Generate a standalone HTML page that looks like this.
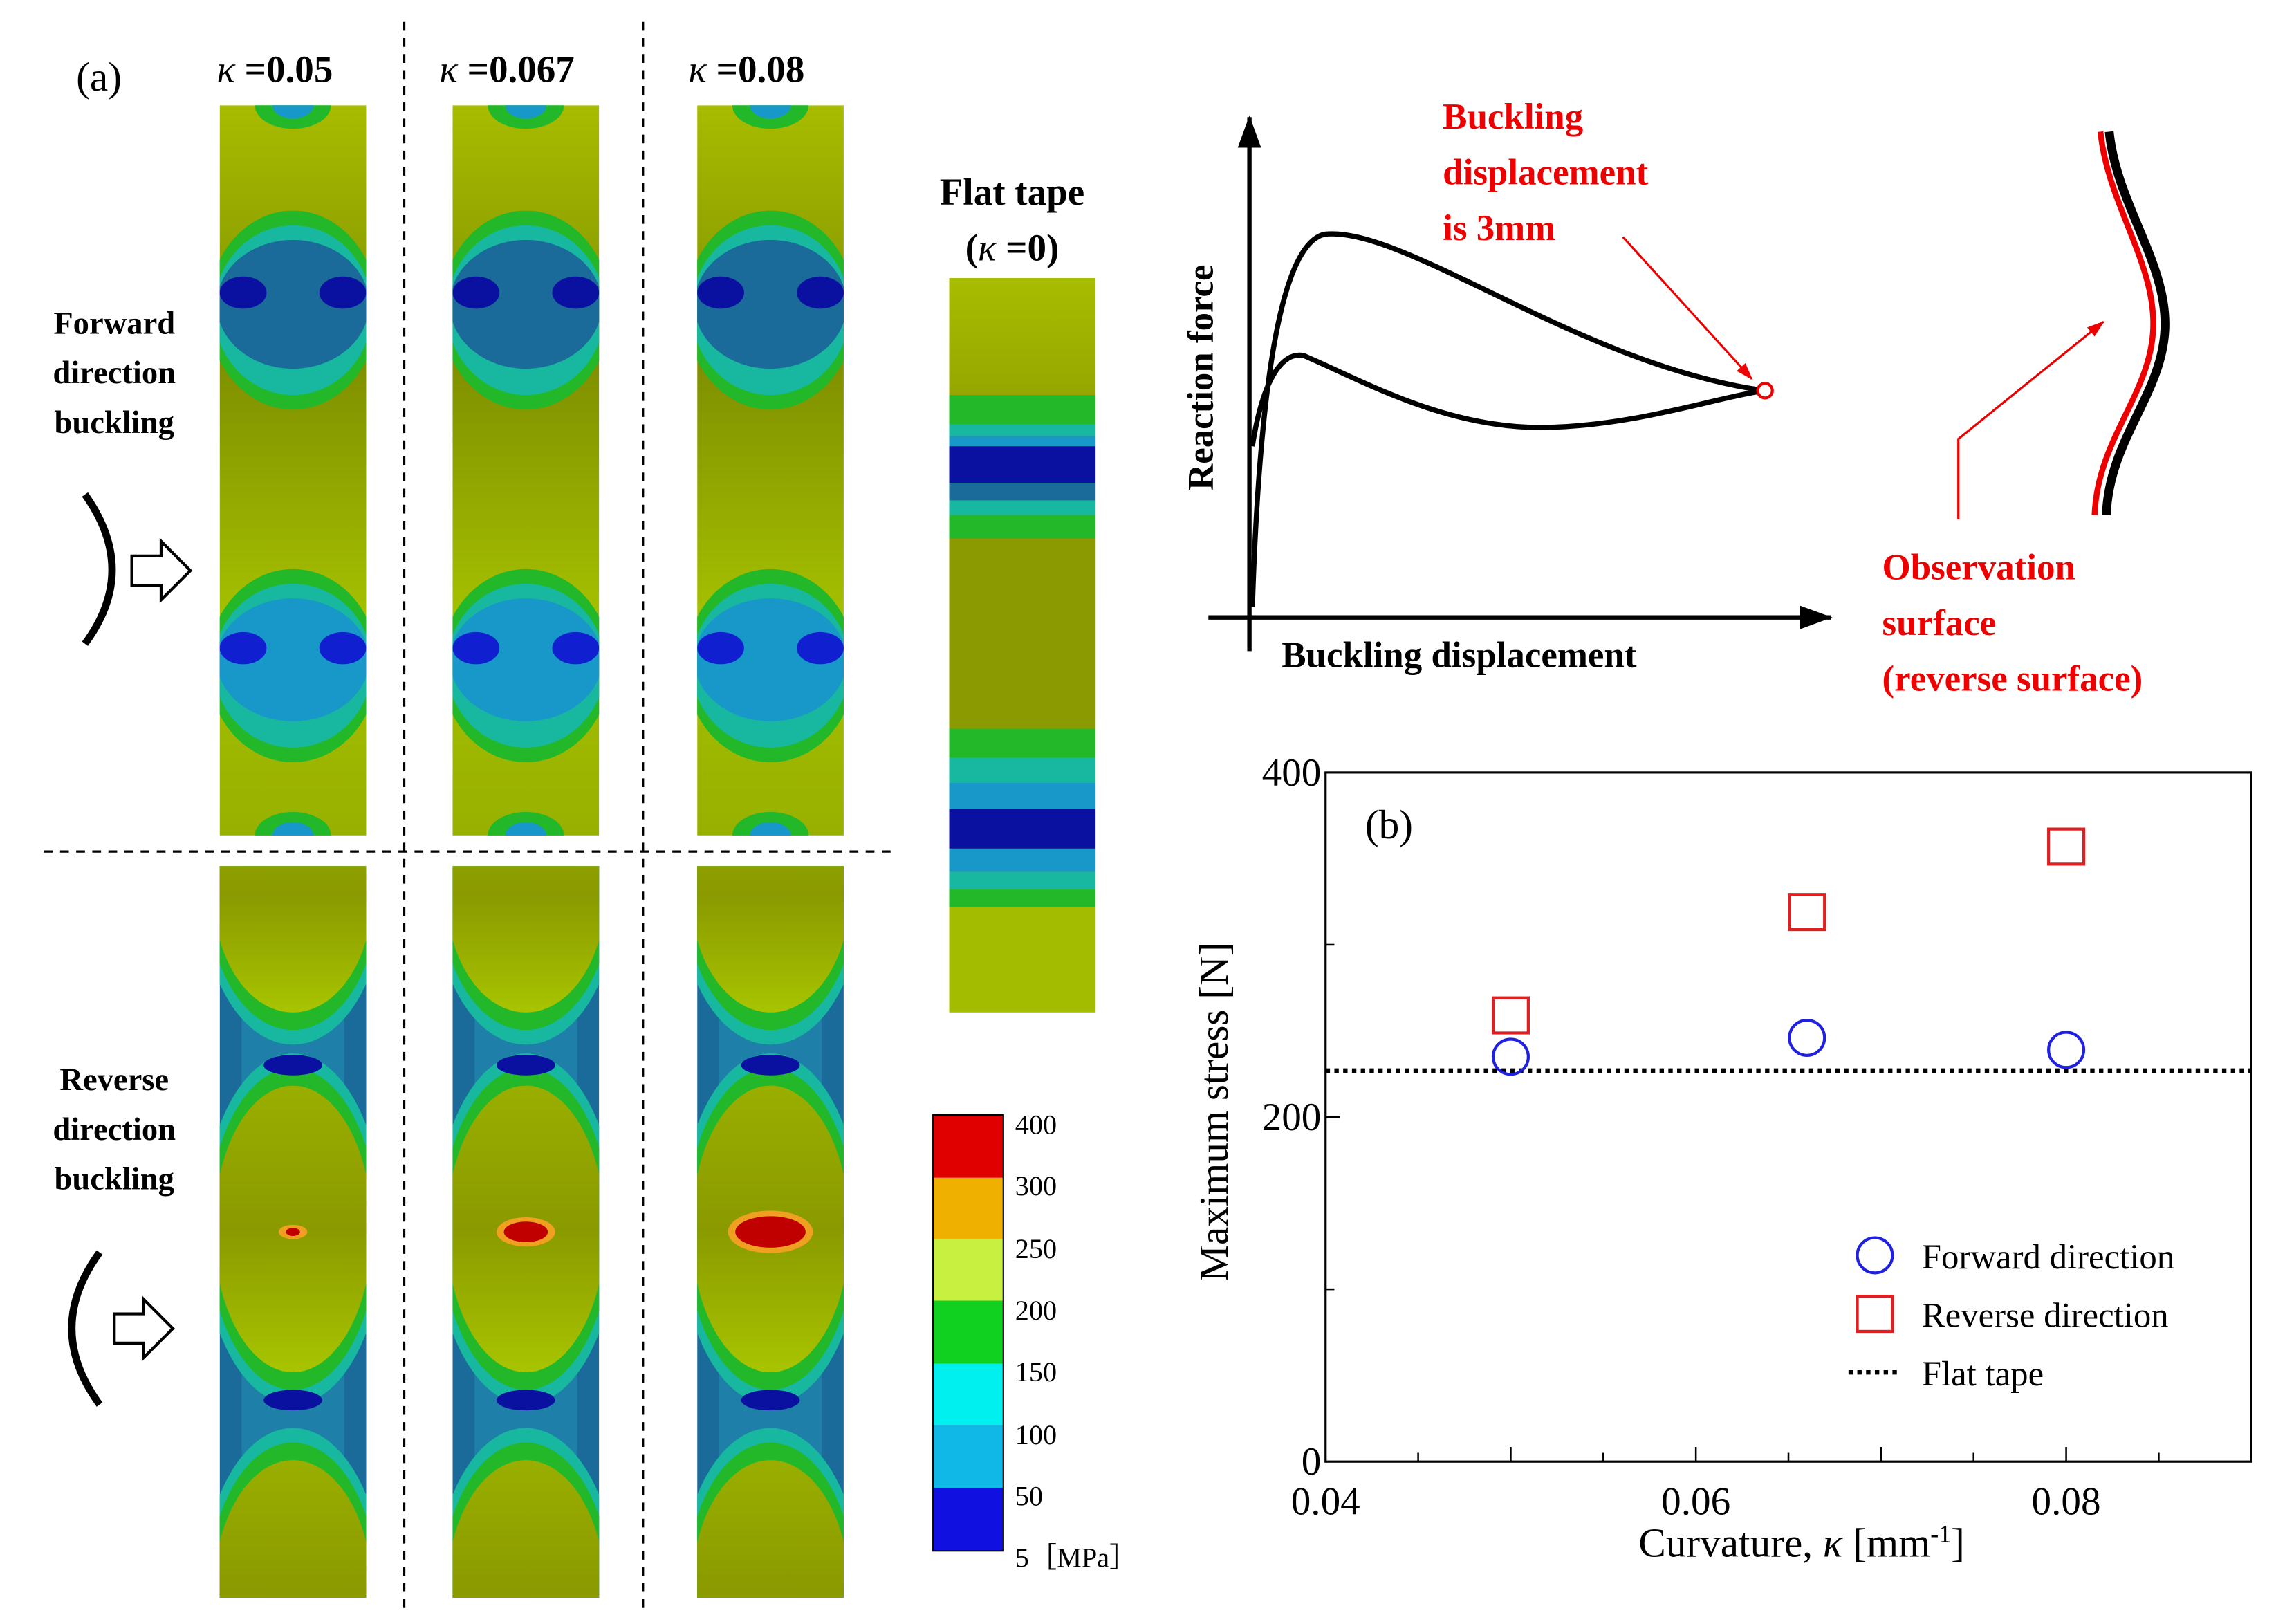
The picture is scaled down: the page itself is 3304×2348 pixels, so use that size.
<!DOCTYPE html>
<html><head><meta charset="utf-8"><style>
html,body{margin:0;padding:0;background:#fff;width:3304px;height:2348px;overflow:hidden}
svg{display:block;position:absolute;left:0;top:0}
text{font-family:"Liberation Serif",serif}
.b{font-weight:bold}
</style></head><body>
<svg id="fig" width="3304" height="2348" viewBox="0 0 1560 1110" preserveAspectRatio="none" xmlns="http://www.w3.org/2000/svg">
<defs>
<linearGradient id="olive" x1="0" y1="0" x2="0" y2="1">
<stop offset="0" stop-color="#a8bc00"/><stop offset="0.35" stop-color="#7f8f00"/><stop offset="0.7" stop-color="#a5c000"/><stop offset="1" stop-color="#98b000"/></linearGradient>
<linearGradient id="olive2" x1="0" y1="0" x2="0" y2="1">
<stop offset="0" stop-color="#9aae00"/><stop offset="0.5" stop-color="#8a9a00"/><stop offset="1" stop-color="#a8c400"/></linearGradient>
<clipPath id="c1"><rect x="150" y="72" width="100" height="499"/></clipPath>
<clipPath id="c2"><rect x="309" y="72" width="100" height="499"/></clipPath>
<clipPath id="c3"><rect x="476" y="72" width="100" height="499"/></clipPath>
<clipPath id="r1"><rect x="150" y="592" width="100" height="500"/></clipPath>
<clipPath id="r2"><rect x="309" y="592" width="100" height="500"/></clipPath>
<clipPath id="r3"><rect x="476" y="592" width="100" height="500"/></clipPath>
<clipPath id="cf"><rect x="648" y="190" width="100" height="502"/></clipPath>
<marker id="ah" markerUnits="userSpaceOnUse" markerWidth="22" markerHeight="20" refX="21" refY="10" orient="auto"><path d="M0,2 L22,10 L0,18 z" fill="#000"/></marker>
<marker id="ahr" markerUnits="userSpaceOnUse" markerWidth="12" markerHeight="10" refX="11" refY="5" orient="auto"><path d="M0,1 L12,5 L0,9 z" fill="#e00"/></marker>
</defs>

<text x="52" y="62" font-size="28">(a)</text>
<text class="b" x="148" y="56" font-size="26"><tspan font-style="italic" font-weight="normal">κ</tspan> =0.05</text>
<text class="b" x="300" y="56" font-size="26"><tspan font-style="italic" font-weight="normal">κ</tspan> =0.067</text>
<text class="b" x="470" y="56" font-size="26"><tspan font-style="italic" font-weight="normal">κ</tspan> =0.08</text>
<text class="b" x="691" y="140" font-size="26" text-anchor="middle">Flat tape</text>
<text class="b" x="691" y="178" font-size="26" text-anchor="middle">(<tspan font-style="italic" font-weight="normal">κ</tspan> =0)</text>

<g font-size="22" text-anchor="middle">
<text x="78" y="228" class="b">Forward</text><text x="78" y="262" class="b">direction</text><text x="78" y="296" class="b">buckling</text></g>
<g font-size="22" text-anchor="middle">
<text x="78" y="745" class="b">Reverse</text><text x="78" y="779" class="b">direction</text><text x="78" y="813" class="b">buckling</text></g>

<g>
<path d="M58,338 Q95,390 58,440" fill="none" stroke="#000" stroke-width="5"/>
<path d="M90,380 L110,380 L110,370 L130,390 L110,410 L110,400 L90,400 Z" fill="#fff" stroke="#000" stroke-width="2"/></g>
<g>
<path d="M68,856 Q30,908 68,960" fill="none" stroke="#000" stroke-width="5"/>
<path d="M78,898 L98,898 L98,888 L118,908 L98,928 L98,918 L78,918 Z" fill="#fff" stroke="#000" stroke-width="2"/></g>

<g id="strips"></g>

<g stroke="#000" stroke-width="1.5" stroke-dasharray="6,5">
<line x1="276" y1="15" x2="276" y2="1100"/><line x1="439" y1="15" x2="439" y2="1100"/>
<line x1="30" y1="582" x2="610" y2="582"/></g>

<g>
<rect x="637" y="762" width="48" height="43" fill="#e00000"/>
<rect x="637" y="805" width="48" height="42" fill="#f0b000"/>
<rect x="637" y="847" width="48" height="42" fill="#c8f040"/>
<rect x="637" y="889" width="48" height="43" fill="#10d020"/>
<rect x="637" y="932" width="48" height="42" fill="#00f0f0"/>
<rect x="637" y="974" width="48" height="43" fill="#10b8e8"/>
<rect x="637" y="1017" width="48" height="43" fill="#1010e0"/>
<rect x="637" y="762" width="48" height="298" fill="none" stroke="#000" stroke-width="1"/>
<g font-size="19"><text x="693" y="775">400</text><text x="693" y="817">300</text><text x="693" y="860">250</text><text x="693" y="902">200</text><text x="693" y="944">150</text><text x="693" y="987">100</text><text x="693" y="1029">50</text><text x="693" y="1071">5［MPa］</text></g>
</g>

<g>
<line x1="853" y1="445" x2="853" y2="80" stroke="#000" stroke-width="3" marker-end="url(#ah)"/>
<line x1="825" y1="422" x2="1250" y2="422" stroke="#000" stroke-width="3" marker-end="url(#ah)"/>
<path d="M855,415 C860,260 875,165 905,160 C960,155 1080,250 1205,267" fill="none" stroke="#000" stroke-width="3.5"/>
<path d="M855,305 C862,260 875,240 890,243 C930,260 990,295 1060,292 C1120,290 1170,272 1205,267" fill="none" stroke="#000" stroke-width="3.5"/>
<circle cx="1205" cy="267" r="5" fill="#fff" stroke="#e00" stroke-width="2"/>
<line x1="1108" y1="162" x2="1196" y2="259" stroke="#e00" stroke-width="1.5" marker-end="url(#ahr)"/>
<g fill="#e00" font-size="25"><text x="985" y="88" class="b">Buckling</text><text x="985" y="126" class="b">displacement</text><text x="985" y="164" class="b">is 3mm</text></g>
<text class="b" font-size="25" transform="translate(828,258) rotate(-90)" text-anchor="middle">Reaction force</text>
<text class="b" font-size="25" x="875" y="456">Buckling displacement</text>
<path d="M1440,90 C1445,140 1480,180 1478,225 C1476,270 1440,300 1438,352" fill="none" stroke="#000" stroke-width="6"/>
<path d="M1434,90 C1439,140 1472,180 1470,225 C1468,270 1432,300 1430,352" fill="none" stroke="#e00" stroke-width="4"/>
<polyline points="1337,355 1337,300 1436,220" fill="none" stroke="#e00" stroke-width="1.5" marker-end="url(#ahr)"/>
<g fill="#e00" font-size="25"><text x="1285" y="396" class="b">Observation</text><text x="1285" y="434" class="b">surface</text><text x="1285" y="472" class="b">(reverse surface)</text></g>
</g>

<g id="chart"></g>
</svg>
<script>
const ns="http://www.w3.org/2000/svg";
function mk(tag,attrs,parent){const e=document.createElementNS(ns,tag);for(const k in attrs)e.setAttribute(k,attrs[k]);parent.appendChild(e);return e;}

const curvature=[0.05,0.066,0.08];
const forwardStress=[235,246,239];
const reverseStress=[259,319,357];
const flatTapeStress=[227];
const xTicks=[0.04,0.06,0.08];
const xTickLabels=["0.04","0.06","0.08"];
const yTicks=[0,200,400];
const yTickLabels=["0","200","400"];

const X0=905,X1=1537,Y0=999,Y1=528;
const xs=v=>X0+(v-0.04)/(0.09-0.04)*(X1-X0);
const ys=v=>Y0-(v/400)*(Y0-Y1);
const g=document.getElementById('chart');
let frame=mk('rect',{x:X0,y:Y1,width:X1-X0,height:Y0-Y1,fill:'none',stroke:'#000','stroke-width':1.5},g);


for(let i=1;i<10;i++){const v=0.04+i*0.005;mk('line',{x1:xs(v),y1:Y0,x2:xs(v),y2:Y0-(i%2===0?10:6),stroke:'#000','stroke-width':1.2},g);}
for(let v=100;v<400;v+=100){mk('line',{x1:X0,y1:ys(v),x2:X0+(v%200===0?10:6),y2:ys(v),stroke:'#000','stroke-width':1.2},g);}
xTicks.forEach((v,i)=>{const t=mk('text',{x:xs(v),y:Y0+36,'font-size':27,'text-anchor':'middle'},g);t.textContent=xTickLabels[i];

});
yTicks.forEach((v,i)=>{const t=mk('text',{x:X0-3,y:ys(v)+9,'font-size':27,'text-anchor':'end'},g);t.textContent=yTickLabels[i];

});
let xl=mk('text',{x:1230,y:1064,'font-size':28,'text-anchor':'middle'},g);
xl.innerHTML='Curvature, <tspan font-style="italic">κ</tspan> [mm<tspan font-size="17" dy="-10">-1</tspan><tspan dy="10">]</tspan>';


let yl=mk('text',{transform:'translate(838,760) rotate(-90)','font-size':28,'text-anchor':'middle'},g);
yl.textContent='Maximum stress [N]';


let pb=mk('text',{x:932,y:573,'font-size':28},g);pb.textContent='(b)';


let fl=mk('line',{x1:X0,y1:ys(flatTapeStress[0]),x2:X1,y2:ys(flatTapeStress[0]),stroke:'#000','stroke-width':3,'stroke-dasharray':'3,3'},g);


curvature.forEach((c,i)=>{
 const r=mk('rect',{x:xs(c)-12,y:ys(reverseStress[i])-12,width:24,height:24,fill:'none',stroke:'#e02020','stroke-width':2},g);
 
 
 const ci=mk('circle',{cx:xs(c),cy:ys(forwardStress[i]),r:12,fill:'none',stroke:'#2020e0','stroke-width':2},g);
 
 
});
const lg=mk('g',{},g);


mk('circle',{cx:1280,cy:858,r:12,fill:'none',stroke:'#2020e0','stroke-width':2},lg);
mk('rect',{x:1268,y:886,width:24,height:24,fill:'none',stroke:'#e02020','stroke-width':2},lg);
mk('line',{x1:1262,y1:938,x2:1297,y2:938,stroke:'#000','stroke-width':3,'stroke-dasharray':'3,3'},lg);
[['Forward direction',867],['Reverse direction',907],['Flat tape',947]].forEach(a=>{const t=mk('text',{x:1312,y:a[1],'font-size':24},lg);t.textContent=a[0];});

const S=document.getElementById('strips');
const C={g:'#22b82a',t:'#18b8a0',lb:'#1898c8',db:'#1a6a9a',n:'#0a10a0'};
function forwardStrip(x,clip){
 const gr=mk('g',{'clip-path':'url(#'+clip+')'},S);
 
 
 mk('rect',{x:x,y:72,width:100,height:499,fill:'url(#olive)'},gr);
 [[212,68],[455,66]].forEach(([cy,ry],k)=>{
  mk('ellipse',{cx:x+50,cy:cy,rx:58,ry:ry,fill:C.g},gr);
  mk('ellipse',{cx:x+50,cy:cy,rx:54,ry:ry-10,fill:C.t},gr);
  mk('ellipse',{cx:x+50,cy:cy-4,rx:52,ry:ry-24,fill:k?C.lb:C.db},gr);
  mk('ellipse',{cx:x+16,cy:cy-12,rx:16,ry:11,fill:k?'#1020d0':C.n},gr);
  mk('ellipse',{cx:x+84,cy:cy-12,rx:16,ry:11,fill:k?'#1020d0':C.n},gr);
 });
 [72,571].forEach(cy=>{mk('ellipse',{cx:x+50,cy:cy,rx:26,ry:16,fill:C.g},gr);mk('ellipse',{cx:x+50,cy:cy,rx:14,ry:9,fill:C.lb},gr);});
}
function reverseStrip(x,clip,red){
 const gr=mk('g',{'clip-path':'url(#'+clip+')'},S);
 
 
 mk('rect',{x:x,y:592,width:100,height:500,fill:C.db},gr);
 mk('rect',{x:x+15,y:592,width:70,height:500,fill:'#1e7fa8'},gr);
 [[612,80],[840,98],[1088,90]].forEach(([cy,ry])=>{
  mk('ellipse',{cx:x+50,cy:cy,rx:62,ry:ry+22,fill:C.t},gr);
  mk('ellipse',{cx:x+50,cy:cy,rx:58,ry:ry+12,fill:C.g},gr);
  mk('ellipse',{cx:x+50,cy:cy,rx:54,ry:ry,fill:'url(#olive2)'},gr);
 });
 mk('ellipse',{cx:x+50,cy:728,rx:20,ry:7,fill:C.n},gr);
 mk('ellipse',{cx:x+50,cy:957,rx:20,ry:7,fill:C.n},gr);
 mk('ellipse',{cx:x+50,cy:842,rx:8+red*6,ry:4+red*3,fill:'#f0a020'},gr);
 mk('ellipse',{cx:x+50,cy:842,rx:3+red*6,ry:2+red*2.5,fill:'#c00000'},gr);
}
forwardStrip(150,'c1');forwardStrip(309,'c2');forwardStrip(476,'c3');
reverseStrip(150,'r1',0.3);reverseStrip(309,'r2',2);reverseStrip(476,'r3',3.5);
(function(){
 const gr=mk('g',{'clip-path':'url(#cf)'},S);
 
 
 mk('rect',{x:648,y:190,width:100,height:502,fill:'url(#olive)'},gr);
 const bands=[[270,C.g],[290,C.t],[298,C.lb],[305,C.n],[330,C.db],[342,C.t],[352,C.g],[368,'#8a9a00'],[498,C.g],[518,C.t],[535,C.lb],[553,C.n],[580,C.lb],[596,C.t],[608,C.g],[620,'#a4bc00']];
 for(let i=0;i<bands.length;i++){const y0=bands[i][0],y1=i+1<bands.length?bands[i+1][0]:692;mk('rect',{x:648,y:y0,width:100,height:y1-y0,fill:bands[i][1]},gr);}
})();
</script>
</body></html>
